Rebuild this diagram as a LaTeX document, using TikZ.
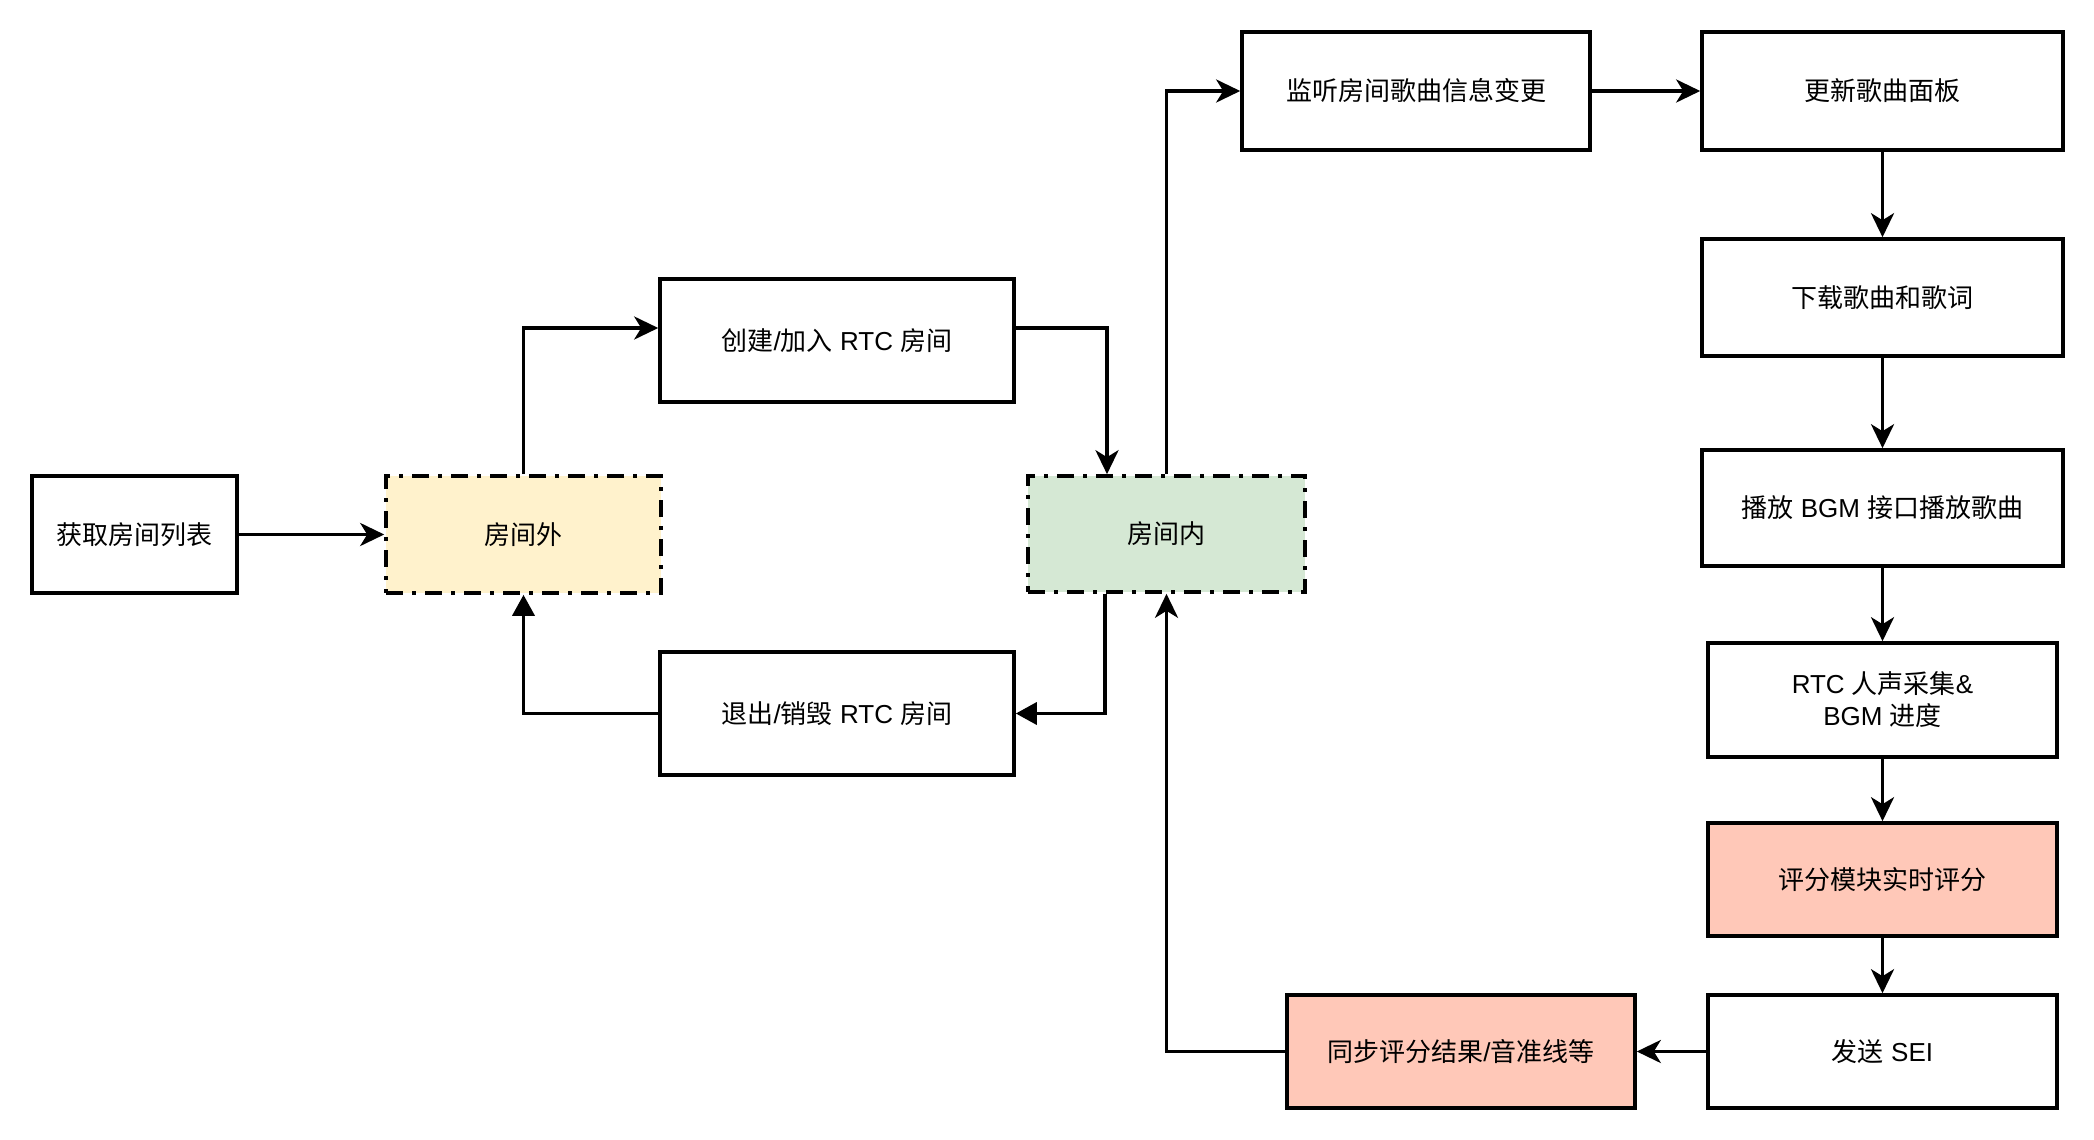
\documentclass[tikz,border=0pt]{standalone}
\usepackage{fontspec}
\setmainfont{Liberation Sans}
\newfontfamily\cjkfont{Noto Sans CJK SC}
\newcommand{\zh}[1]{{\cjkfont #1}}
\usetikzlibrary{arrows.meta}
\definecolor{yel}{HTML}{FFF2CC}
\definecolor{grn}{HTML}{D5E8D4}
\definecolor{sal}{HTML}{FFC8B8}
\tikzset{
 box/.style={draw=black, line width=3.6pt, rectangle, inner sep=0pt, align=center,
   font=\fontsize{26pt}{32pt}\selectfont, text=black},
 dd/.style={box, dash pattern=on 17pt off 9pt on 4pt off 9pt},
 arr/.style={line width=3.6pt, -{Stealth[length=24pt,width=23pt,inset=7pt]}},
 blk/.style={line width=3.6pt, -{Triangle[length=21pt,width=22pt]}},
}
\begin{document}
\begin{tikzpicture}[x=1pt,y=-1pt]
\useasboundingbox (0,0) rectangle (2094,1140);
\node[box, minimum width=205pt, minimum height=117pt] (A) at (134.5,534.5) {\zh{获取房间列表}};
\node[dd, fill=yel, minimum width=275pt, minimum height=117pt] (B) at (523.5,534.5) {\zh{房间外}};
\node[box, minimum width=354pt, minimum height=123pt] (cre) at (837,340.5) {\zh{创建}/\zh{加入} RTC \zh{房间}};
\node[box, minimum width=354pt, minimum height=123pt] (ex) at (837,713.5) {\zh{退出}/\zh{销毁} RTC \zh{房间}};
\node[dd, fill=grn, minimum width=277pt, minimum height=116pt] (C) at (1166.5,534) {\zh{房间内}};
\node[box, minimum width=348pt, minimum height=118pt] (lis) at (1416,91) {\zh{监听房间歌曲信息变更}};
\node[box, minimum width=361pt, minimum height=118pt] (upd) at (1882.5,91) {\zh{更新歌曲面板}};
\node[box, minimum width=361pt, minimum height=117pt] (dl) at (1882.5,297.5) {\zh{下载歌曲和歌词}};
\node[box, minimum width=361pt, minimum height=116pt] (play) at (1882.5,508) {\zh{播放} BGM \zh{接口播放歌曲}};
\node[box, minimum width=349pt, minimum height=114pt] (rtc) at (1882.5,700) {RTC \zh{人声采集}\&\\BGM \zh{进度}};
\node[box, fill=sal, minimum width=349pt, minimum height=113pt] (score) at (1882.5,879.5) {\zh{评分模块实时评分}};
\node[box, minimum width=349pt, minimum height=113pt] (sei) at (1882.5,1051.5) {\zh{发送} SEI};
\node[box, fill=sal, minimum width=348pt, minimum height=113pt] (syn) at (1461,1051.5) {\zh{同步评分结果}/\zh{音准线等}};

\draw[arr] (A.east) -- (B.west);
\draw[arr] (B.north) |- ([yshift=12.5pt]cre.west);
\draw[arr] ([yshift=12.5pt]cre.east) -| ([xshift=-59.5pt]C.north);
\draw[arr] (C.north) |- (lis.west);
\draw[arr] (lis.east) -- (upd.west);
\draw[arr] (upd.south) -- (dl.north);
\draw[arr] (dl.south) -- (play.north);
\draw[arr] (play.south) -- (rtc.north);
\draw[arr] (rtc.south) -- (score.north);
\draw[arr] (score.south) -- (sei.north);
\draw[arr] (sei.west) -- (syn.east);
\draw[arr] (syn.west) -| (C.south);
\draw[blk] ([xshift=-61.5pt]C.south) |- (ex.east);
\draw[blk] (ex.west) -| (B.south);
\end{tikzpicture}
\end{document}
